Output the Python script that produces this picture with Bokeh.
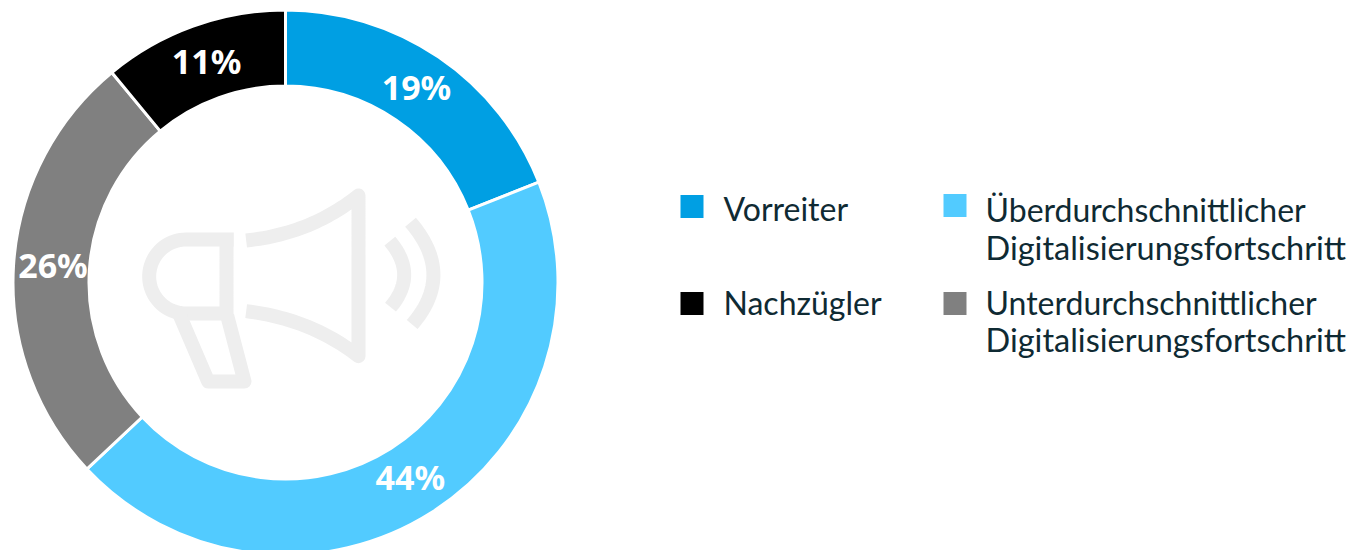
import numpy as np
from bokeh.plotting import figure
from bokeh.models import Range1d, ColumnDataSource
from bokeh.core.properties import value
from bokeh.embed import file_html
from bokeh.resources import INLINE

categories = ["Vorreiter", "Überdurchschnittlicher Digitalisierungsfortschritt",
              "Unterdurchschnittlicher Digitalisierungsfortschritt", "Nachzügler"]
values = [19, 44, 26, 11]
labels = ["19%", "44%", "26%", "11%"]
colors = ["#009FE3", "#52CBFF", "#808080", "#000000"]

W, H = 1351, 550
IMG_H = 550
TXT = "#0F2A33"
ICON = "#EEEEEE"
FONT = "Lato"


def Y(py):
    return IMG_H - np.asarray(py, dtype=float)


p = figure(width=W, height=H, output_backend="svg", toolbar_location=None,
           x_range=Range1d(0, W), y_range=Range1d(0, H),
           min_border=0, outline_line_color=None, background_fill_color="white")
p.xaxis.visible = False
p.yaxis.visible = False
p.grid.visible = False

# ring
cx, cy = 285, 282
v = np.array(values, dtype=float)
frac = np.cumsum(v) / v.sum()
start = np.concatenate([[0], frac[:-1]])
starts = np.pi / 2 - 2 * np.pi * start
ends = np.pi / 2 - 2 * np.pi * frac
src = ColumnDataSource(dict(x=[cx] * 4, y=[Y(cy)] * 4, s=starts, e=ends, c=colors))
p.annular_wedge(x="x", y="y", inner_radius=196.5, outer_radius=272.5, start_angle="s", end_angle="e",
                direction="clock", fill_color="c", line_color="white", line_width=3, source=src)

# percent labels
mid = (start + frac) / 2 * 2 * np.pi
lx = cx + 233 * np.sin(mid)
ly = Y(cy - 233 * np.cos(mid) - 2.5)
p.text(lx, ly, text=labels, text_color="white", text_font=value("Noto Sans"), text_font_style="bold",
       text_font_size="34px", text_align="center", text_baseline="middle")


def zx(a):
    return 120 + np.asarray(a, dtype=float) / 3


def zy(a):
    return Y(170 + np.asarray(a, dtype=float) / 3)


def quad(a, b, c, n=30):
    t = np.linspace(0, 1, n)
    xs = (1 - t) ** 2 * a[0] + 2 * t * (1 - t) * b[0] + t ** 2 * c[0]
    ys = (1 - t) ** 2 * a[1] + 2 * t * (1 - t) * b[1] + t ** 2 * c[1]
    return xs, ys


lw = 14
# horn
ux, uy = quad((377, 210), (570, 190), (714, 75))
lox, loy = quad((714, 557), (570, 445), (377, 422))
p.line(zx(np.r_[ux, lox]), zy(np.r_[uy, loy]), line_color=ICON, line_width=lw, line_join="round", line_cap="butt")
# head
th = np.linspace(np.pi / 2, 3 * np.pi / 2, 40)
hx = np.r_[197 + 111 * np.cos(th), 318, 318]
hy = np.r_[318 - 111 * np.sin(th), 429, 187]
p.line(zx(np.r_[340, hx]), zy(np.r_[207, hy]), line_color=ICON, line_width=lw, line_join="miter")
# handle
p.line(zx([178, 263, 372, 320]), zy([435, 633, 633, 435]), line_color=ICON, line_width=lw, line_join="round")
# waves
for a, b, c in [((808, 212), (893, 312), (810, 410)), ((870, 155), (1005, 312), (875, 462))]:
    wx, wy = quad(a, b, c)
    p.line(zx(wx), zy(wy), line_color=ICON, line_width=lw, line_cap="butt")

# legend
sq_x = [691.5, 954.5, 954.5, 691.5]
sq_y = [206, 205, 303, 303]
p.rect(sq_x, Y(sq_y), width=23, height=23, fill_color=colors, line_color=None)
txt = ["Vorreiter", "Überdurchschnittlicher", "Digitalisierungsfortschritt",
       "Unterdurchschnittlicher", "Digitalisierungsfortschritt", "Nachzügler"]
tx = [723, 985, 985, 985, 985, 723]
ty = [208, 209, 247, 302, 339, 302]
ts = ["32px", "32px", "32.5px", "32px", "32.5px", "32px"]
src_t = ColumnDataSource(dict(x=tx, y=Y(ty), t=txt, s=ts))
p.text("x", "y", text="t", text_font_size="s", text_color=TXT, text_font=value(FONT),
       text_align="left", text_baseline="alphabetic", source=src_t)

open("out.html", "w").write(file_html(p, INLINE))
